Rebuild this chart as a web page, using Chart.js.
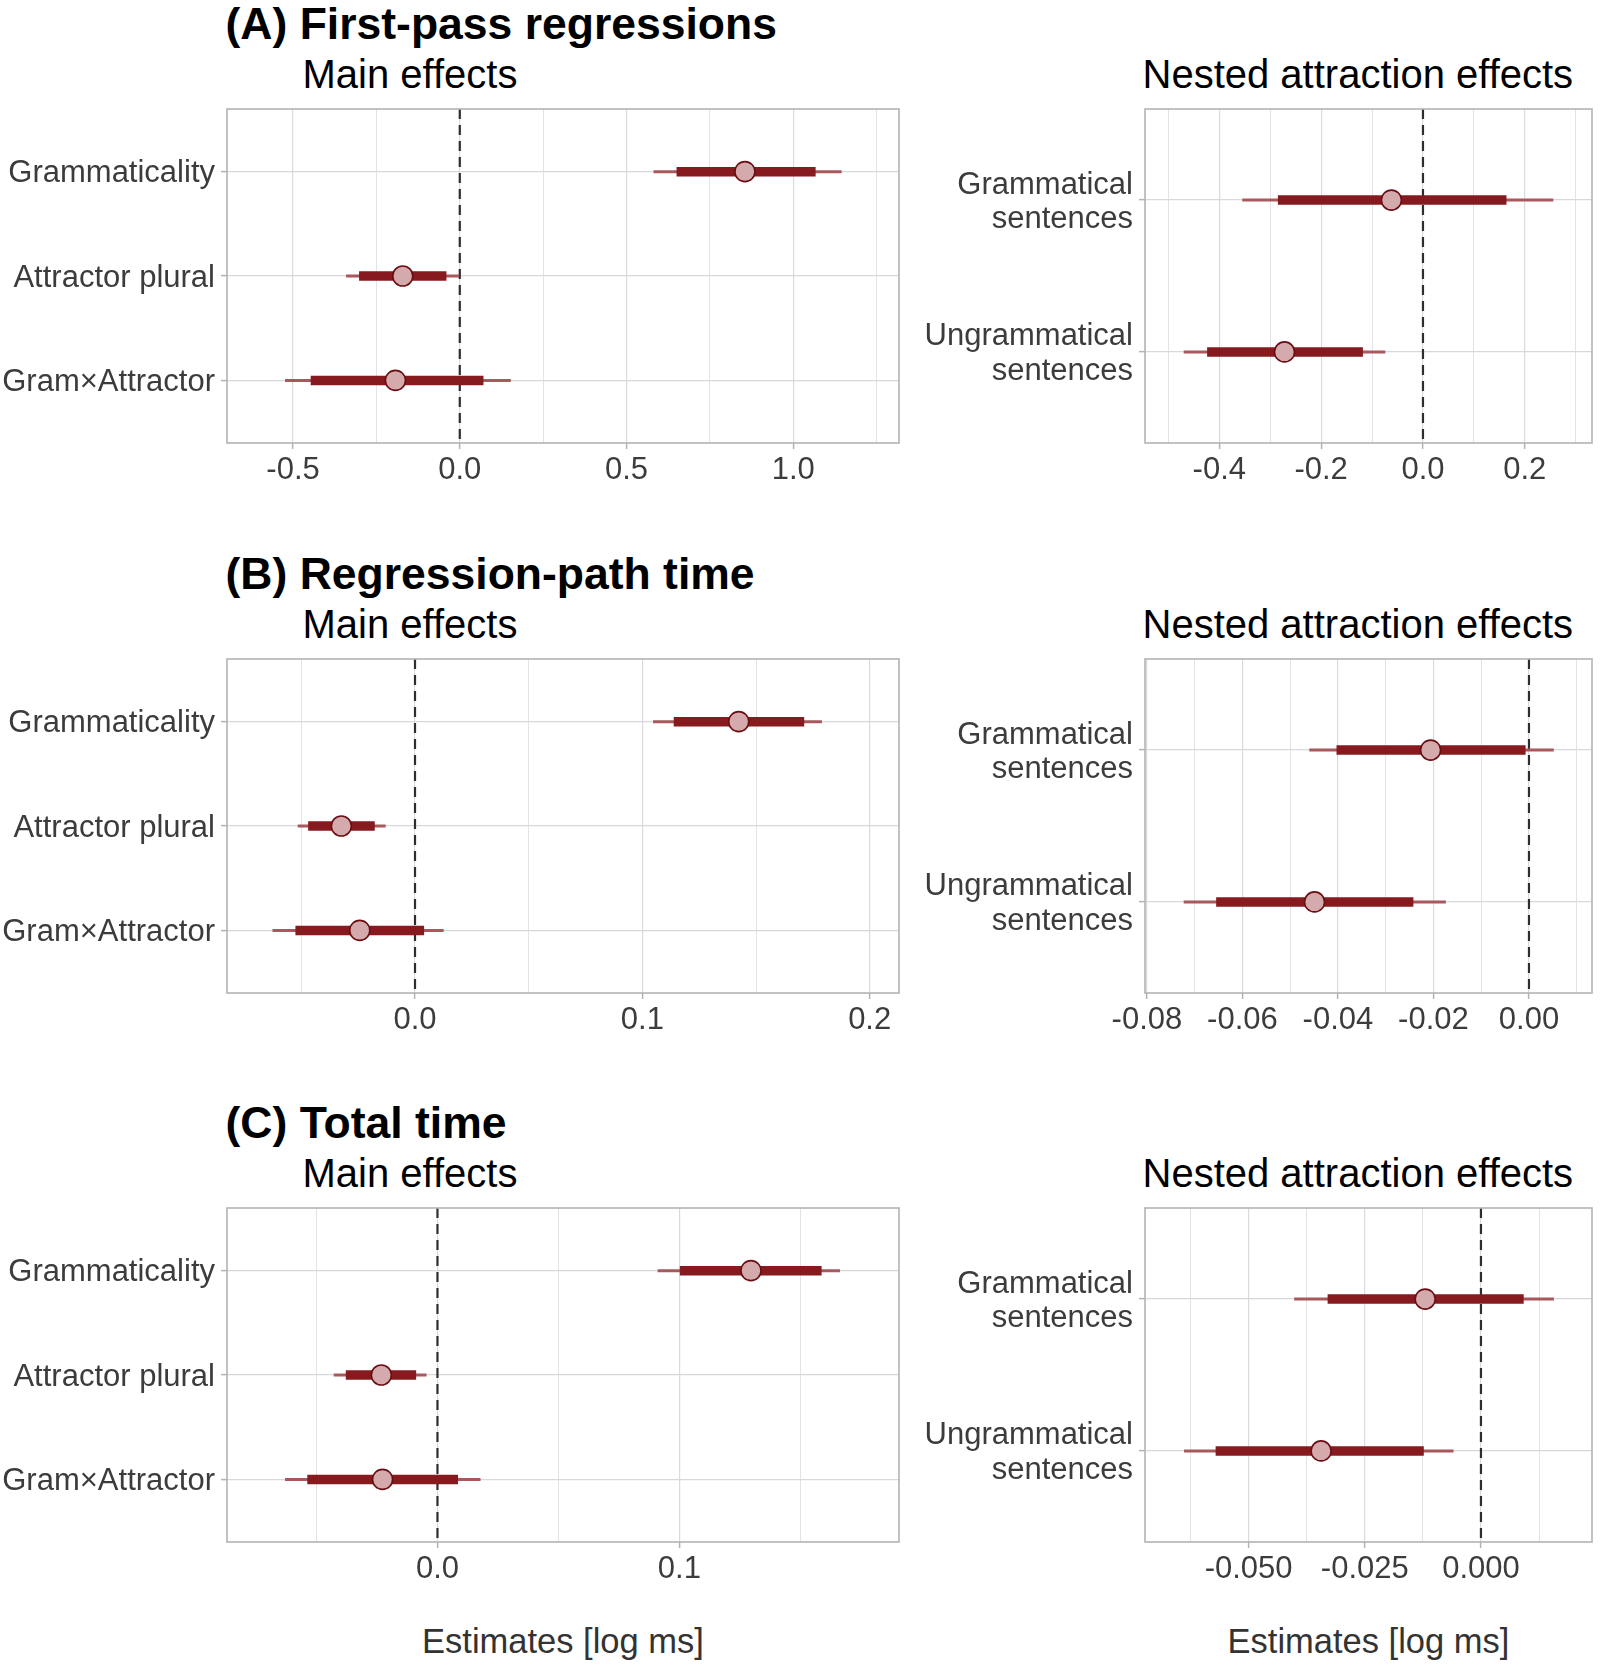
<!DOCTYPE html>
<html>
<head>
<meta charset="utf-8">
<script src="https://cdn.jsdelivr.net/npm/chart.js@4.4.1/dist/chart.umd.min.js"></script>
<style>
html,body{margin:0;padding:0;background:#fff;}
#wrap{position:relative;width:1600px;height:1665px;overflow:hidden;font-family:'Liberation Sans',Arial,Helvetica,sans-serif;background:#fff;}
canvas{position:absolute;}
.t{position:absolute;line-height:1;white-space:nowrap;}
.title{font-weight:bold;font-size:44.5px;color:#000;}
.sub{font-size:40px;color:#000;}
.xt{font-size:34.5px;color:#333;text-align:center;}
</style>
</head>
<body>
<div id="wrap"></div>
<script>
// ---------------- DATA ----------------
const panelTitles = ["(A) First-pass regressions", "(B) Regression-path time", "(C) Total time"];
const subTitleMain = "Main effects";
const subTitleNested = "Nested attraction effects";
const xAxisTitle = "Estimates [log ms]";

const mainLabels = ["Grammaticality", "Attractor plural", "Gram\u00d7Attractor"];
const nestedLabels = [["Grammatical", "sentences"], ["Ungrammatical", "sentences"]];

// (A) First-pass regressions — main effects
const fprMainEst     = [0.855, -0.171, -0.193];
const fprMainInnerLo = [0.650, -0.302, -0.447];
const fprMainInnerHi = [1.067, -0.040, 0.071];
const fprMainOuterLo = [0.581, -0.341, -0.524];
const fprMainOuterHi = [1.145, -0.002, 0.153];
// (A) nested
const fprNestEst     = [-0.062, -0.272];
const fprNestInnerLo = [-0.285, -0.424];
const fprNestInnerHi = [0.164, -0.118];
const fprNestOuterLo = [-0.355, -0.470];
const fprNestOuterHi = [0.256, -0.074];

// (B) Regression-path time — main effects
const rptMainEst     = [0.1424, -0.0324, -0.0243];
const rptMainInnerLo = [0.1138, -0.0470, -0.0526];
const rptMainInnerHi = [0.1712, -0.0177, 0.0040];
const rptMainOuterLo = [0.1047, -0.0516, -0.0627];
const rptMainOuterHi = [0.1790, -0.0129, 0.0126];
// (B) nested
const rptNestEst     = [-0.0206, -0.0449];
const rptNestInnerLo = [-0.0403, -0.0655];
const rptNestInnerHi = [-0.0007, -0.0242];
const rptNestOuterLo = [-0.0460, -0.0723];
const rptNestOuterHi = [0.0052, -0.0174];

// (C) Total time — main effects
const ttMainEst     = [0.1296, -0.0232, -0.0227];
const ttMainInnerLo = [0.1002, -0.0379, -0.0538];
const ttMainInnerHi = [0.1588, -0.0088, 0.0085];
const ttMainOuterLo = [0.0910, -0.0429, -0.0630];
const ttMainOuterHi = [0.1664, -0.0045, 0.0178];
// (C) nested
const ttNestEst     = [-0.0120, -0.0344];
const ttNestInnerLo = [-0.0330, -0.0571];
const ttNestInnerHi = [0.0092, -0.0123];
const ttNestOuterLo = [-0.0402, -0.0639];
const ttNestOuterHi = [0.0157, -0.0059];

// axis ranges and ticks
const fprMainRange = [-0.698, 1.317];
const fprMainTicks = [-0.5, 0, 0.5, 1.0];
const fprMainTickLabels = ["-0.5", "0.0", "0.5", "1.0"];
const fprMainMinor = [-0.25, 0.25, 0.75, 1.25];

const fprNestRange = [-0.546, 0.332];
const fprNestTicks = [-0.4, -0.2, 0, 0.2];
const fprNestTickLabels = ["-0.4", "-0.2", "0.0", "0.2"];
const fprNestMinor = [-0.5, -0.3, -0.1, 0.1, 0.3];

const rptMainRange = [-0.0827, 0.2129];
const rptMainTicks = [0, 0.1, 0.2];
const rptMainTickLabels = ["0.0", "0.1", "0.2"];
const rptMainMinor = [-0.05, 0.05, 0.15];

const rptNestRange = [-0.0804, 0.0132];
const rptNestTicks = [-0.08, -0.06, -0.04, -0.02, 0];
const rptNestTickLabels = ["-0.08", "-0.06", "-0.04", "-0.02", "0.00"];
const rptNestMinor = [-0.07, -0.05, -0.03, -0.01, 0.01];

const ttMainRange = [-0.087, 0.1908];
const ttMainTicks = [0, 0.1];
const ttMainTickLabels = ["0.0", "0.1"];
const ttMainMinor = [-0.05, 0.05, 0.15];

const ttNestRange = [-0.0723, 0.0239];
const ttNestTicks = [-0.05, -0.025, 0];
const ttNestTickLabels = ["-0.050", "-0.025", "0.000"];
const ttNestMinor = [-0.0625, -0.0375, -0.0125, 0.0125];

// ---------------- LAYOUT ----------------
const wrap = document.getElementById('wrap');
Chart.defaults.font.family = "'Liberation Sans', Arial, Helvetica, sans-serif";

const panelTop = [109, 659, 1208];
const panelBottom = [443, 993, 1542];
const mainBox = {cl: 0, L: 227, R: 899};
const nestBox = {cl: 870, L: 1145, R: 1592};
const titleBaseline = [39.5, 589.5, 1138.5];
const subBaseline = [87.5, 637.5, 1186.5];

function addText(cls, text, left, top, width) {
  const d = document.createElement('div');
  d.className = 't ' + cls;
  d.textContent = text;
  d.style.left = left + 'px';
  d.style.top = top + 'px';
  if (width) d.style.width = width + 'px';
  wrap.appendChild(d);
}

panelTitles.forEach((t, i) => {
  addText('title', t, 225.5, titleBaseline[i] - 0.8465 * 44.5);
  addText('sub', subTitleMain, 302.5, subBaseline[i] - 0.8465 * 40);
  addText('sub', subTitleNested, 1142.5, subBaseline[i] - 0.8465 * 40);
});
addText('xt', xAxisTitle, 563 - 200, 1653 - 0.8465 * 34.5, 400);
addText('xt', xAxisTitle, 1368.5 - 200, 1653 - 0.8465 * 34.5, 400);

const borderPlugin = {
  id: 'panelBorder',
  afterDraw(chart) {
    const a = chart.chartArea;
    const ctx = chart.ctx;
    ctx.save();
    ctx.strokeStyle = '#B3B3B3';
    ctx.lineWidth = 1.6;
    ctx.strokeRect(a.left, a.top, a.right - a.left, a.bottom - a.top);
    ctx.restore();
  }
};

function buildChart(cfg) {
  const padTop = 45, padRight = 30, xAxisH = 56;
  const cv = document.createElement('canvas');
  const w = cfg.R + padRight - cfg.cl;
  const h = (cfg.B + xAxisH) - (cfg.T - padTop);
  cv.width = w; cv.height = h;
  cv.style.left = cfg.cl + 'px';
  cv.style.top = (cfg.T - padTop) + 'px';
  cv.style.width = w + 'px';
  cv.style.height = h + 'px';
  wrap.appendChild(cv);

  const n = cfg.labels.length;
  const rows = cfg.labels.map((_, i) => i + 1);
  const ticks = cfg.major.map((v, i) => ({v: v, label: cfg.majorLabels[i], major: true}))
    .concat(cfg.minor.map(v => ({v: v, label: '', major: false})))
    .sort((a, b) => a.v - b.v);

  const datasets = [];
  datasets.push({
    type: 'scatter', showLine: true,
    data: [{x: 0, y: 0.4}, {x: 0, y: n + 0.6}],
    borderColor: '#2E2E2E', borderWidth: 2.2, borderDash: [10, 6],
    pointRadius: 0, order: 10
  });
  rows.forEach((r, i) => {
    datasets.push({
      type: 'scatter', showLine: true,
      data: [{x: cfg.outerLo[i], y: r}, {x: cfg.outerHi[i], y: r}],
      borderColor: '#A9595D', borderWidth: 3, borderCapStyle: 'butt',
      pointRadius: 0, order: 3
    });
    datasets.push({
      type: 'scatter', showLine: true,
      data: [{x: cfg.innerLo[i], y: r}, {x: cfg.innerHi[i], y: r}],
      borderColor: '#861A1E', borderWidth: 9.5, borderCapStyle: 'butt',
      pointRadius: 0, order: 2
    });
  });
  datasets.push({
    type: 'scatter',
    data: rows.map((r, i) => ({x: cfg.est[i], y: r})),
    pointRadius: 10, pointHoverRadius: 10,
    backgroundColor: '#D5AAAC', borderColor: '#6A0E12', borderWidth: 1.6,
    order: 1
  });

  new Chart(cv, {
    type: 'scatter',
    data: {datasets: datasets},
    options: {
      responsive: false, animation: false, devicePixelRatio: 1,
      events: [],
      layout: {padding: {top: padTop, right: padRight, left: 0, bottom: 0}},
      plugins: {legend: {display: false}, tooltip: {enabled: false}},
      scales: {
        x: {
          type: 'linear', position: 'bottom', bounds: 'data',
          min: cfg.range[0], max: cfg.range[1],
          afterBuildTicks: s => { s.ticks = ticks.map(t => ({value: t.v})); },
          afterFit: s => { s.height = xAxisH; },
          ticks: {
            autoSkip: false, maxRotation: 0, minRotation: 0, padding: 6,
            color: '#3C3C3C', font: {size: 31, lineHeight: 1},
            callback: (v, i) => (ticks[i] ? ticks[i].label : '')
          },
          grid: {
            color: c => (ticks[c.index] && ticks[c.index].major) ? '#DADADA' : '#E3E3E3',
            lineWidth: c => (ticks[c.index] && ticks[c.index].major) ? 1.2 : 1,
            tickLength: 6,
            tickColor: c => (ticks[c.index] && ticks[c.index].major) ? '#B3B3B3' : 'rgba(0,0,0,0)',
            tickWidth: 1.5
          },
          border: {display: false}
        },
        y: {
          type: 'linear', reverse: true, bounds: 'data',
          min: 0.4, max: n + 0.6,
          afterBuildTicks: s => { s.ticks = rows.map(r => ({value: r})); },
          afterFit: s => { s.width = cfg.L - cfg.cl; },
          ticks: {
            autoSkip: false, padding: 6, labelOffset: 2,
            color: '#3C3C3C', font: {size: 31, lineHeight: 1.1},
            callback: (v, i) => cfg.labels[i]
          },
          grid: {color: '#D8D8D8', lineWidth: 1.2, tickLength: 6, tickColor: '#B3B3B3', tickWidth: 1.5},
          border: {display: false}
        }
      }
    },
    plugins: [borderPlugin]
  });
}

const panels = [
  {labels: mainLabels, box: mainBox, p: 0, est: fprMainEst, innerLo: fprMainInnerLo, innerHi: fprMainInnerHi, outerLo: fprMainOuterLo, outerHi: fprMainOuterHi, range: fprMainRange, major: fprMainTicks, majorLabels: fprMainTickLabels, minor: fprMainMinor},
  {labels: nestedLabels, box: nestBox, p: 0, est: fprNestEst, innerLo: fprNestInnerLo, innerHi: fprNestInnerHi, outerLo: fprNestOuterLo, outerHi: fprNestOuterHi, range: fprNestRange, major: fprNestTicks, majorLabels: fprNestTickLabels, minor: fprNestMinor},
  {labels: mainLabels, box: mainBox, p: 1, est: rptMainEst, innerLo: rptMainInnerLo, innerHi: rptMainInnerHi, outerLo: rptMainOuterLo, outerHi: rptMainOuterHi, range: rptMainRange, major: rptMainTicks, majorLabels: rptMainTickLabels, minor: rptMainMinor},
  {labels: nestedLabels, box: nestBox, p: 1, est: rptNestEst, innerLo: rptNestInnerLo, innerHi: rptNestInnerHi, outerLo: rptNestOuterLo, outerHi: rptNestOuterHi, range: rptNestRange, major: rptNestTicks, majorLabels: rptNestTickLabels, minor: rptNestMinor},
  {labels: mainLabels, box: mainBox, p: 2, est: ttMainEst, innerLo: ttMainInnerLo, innerHi: ttMainInnerHi, outerLo: ttMainOuterLo, outerHi: ttMainOuterHi, range: ttMainRange, major: ttMainTicks, majorLabels: ttMainTickLabels, minor: ttMainMinor},
  {labels: nestedLabels, box: nestBox, p: 2, est: ttNestEst, innerLo: ttNestInnerLo, innerHi: ttNestInnerHi, outerLo: ttNestOuterLo, outerHi: ttNestOuterHi, range: ttNestRange, major: ttNestTicks, majorLabels: ttNestTickLabels, minor: ttNestMinor}
];

panels.forEach(pn => {
  buildChart(Object.assign({}, pn, {
    cl: pn.box.cl, L: pn.box.L, R: pn.box.R,
    T: panelTop[pn.p], B: panelBottom[pn.p]
  }));
});
</script>
</body>
</html>
